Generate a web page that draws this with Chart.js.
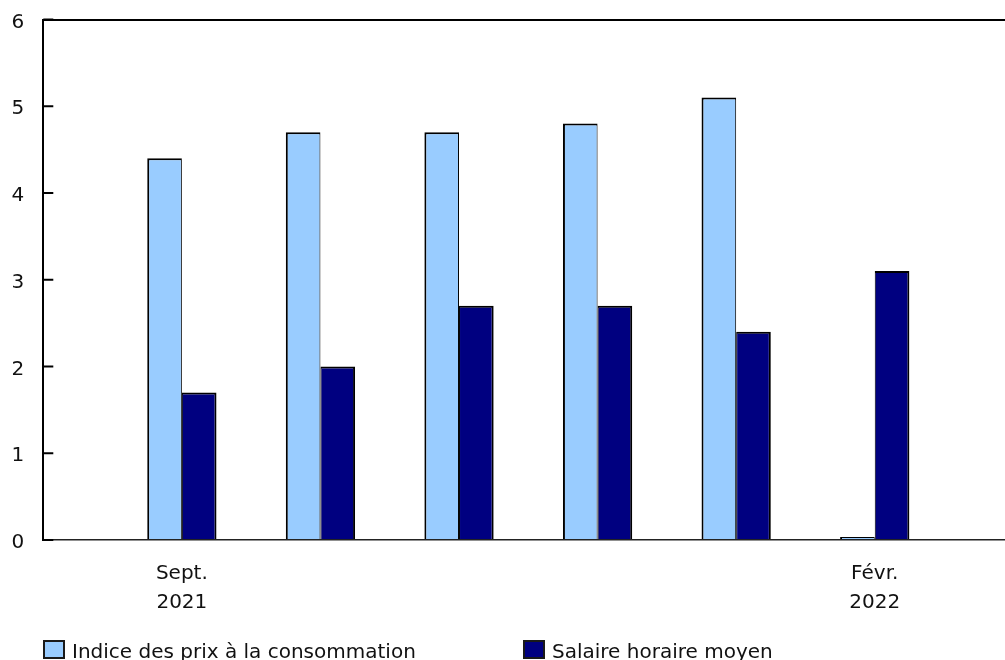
<!DOCTYPE html>
<html lang="fr">
<head>
<meta charset="utf-8">
<script src="https://cdn.jsdelivr.net/npm/chart.js@4"></script>
<style>
  html, body { margin: 0; padding: 0; background: #fff; }
  #wrap { position: relative; width: 1005px; height: 660px; font-family: "DejaVu Sans", Verdana, sans-serif; }
  #chart { position: absolute; left: 0; top: 0; }
  .leg { position: absolute; top: 640px; height: 20px; line-height: 20px; font-size: 20px; color: #111; white-space: nowrap; }
  .leg .box { position: absolute; left: 0; top: 0; width: 22px; height: 19px; box-sizing: border-box; border: 2px solid #1a1a1a; }
  .leg .txt { position: absolute; left: 29px; top: 1px; }
</style>
</head>
<body>
<div id="wrap">
  <canvas id="chart" width="1005" height="660"></canvas>
  <div id="legend"></div>
</div>
<script>
// ---- data ----
const months = ['Sept. 2021', 'Oct. 2021', 'Nov. 2021', 'Déc. 2021', 'Janv. 2022', 'Févr. 2022'];
const xTickLabels = [['Sept.', '2021'], null, null, null, null, ['Févr.', '2022']];
const seriesNames = ['Indice des prix à la consommation', 'Salaire horaire moyen'];
const cpiValues = [4.4, 4.7, 4.7, 4.8, 5.1, 0];
const wageValues = [1.7, 2.0, 2.7, 2.7, 2.4, 3.1];
const yTicks = [0, 1, 2, 3, 4, 5, 6];

const colors = ['#99CCFF', '#000080'];
const FONT = '"DejaVu Sans", Verdana, sans-serif';

const toPoints = vals => vals.map((v, i) => ({ x: i, y: v }));
const tickIndexes = xTickLabels.map((l, i) => (l ? i : null)).filter(v => v !== null);

const inwardTicks = {
  id: 'inwardTicks',
  afterDraw(chart) {
    const { ctx, chartArea, scales } = chart;
    ctx.save();
    ctx.strokeStyle = '#000';
    ctx.lineWidth = 2;
    yTicks.forEach(v => {
      const y = scales.y.getPixelForValue(v);
      ctx.beginPath();
      ctx.moveTo(chartArea.left, y);
      ctx.lineTo(chartArea.left + 10, y);
      ctx.stroke();
    });
    ctx.restore();
  }
};

const chart = new Chart(document.getElementById('chart'), {
  type: 'bar',
  data: {
    datasets: [
      {
        label: seriesNames[0],
        data: toPoints(cpiValues),
        backgroundColor: colors[0],
        borderColor: '#000',
        borderWidth: { top: 2, left: 2, right: 1, bottom: 0 },
        borderSkipped: 'start',
        minBarLength: 3
      },
      {
        label: seriesNames[1],
        data: toPoints(wageValues),
        backgroundColor: colors[1],
        borderColor: '#000',
        borderWidth: { top: 2, left: 1, right: 2, bottom: 0 },
        borderSkipped: 'start',
        minBarLength: 3
      }
    ]
  },
  options: {
    responsive: false,
    animation: false,
    devicePixelRatio: 1,
    categoryPercentage: 0.5,
    barPercentage: 1.0,
    layout: { padding: { left: 11.6, top: 19.5, right: 0, bottom: 42.4 } },
    plugins: {
      legend: { display: false },
      tooltip: { enabled: false }
    },
    scales: {
      x: {
        type: 'linear',
        offset: false,
        min: -1,
        max: 5.94,
        grid: { display: false, drawTicks: false, offset: false },
        border: { display: true, color: '#222', width: 1.5 },
        afterBuildTicks: scale => { scale.ticks = tickIndexes.map(v => ({ value: v })); },
        afterFit: scale => { scale.height = 77.6; scale.paddingLeft = 0; scale.paddingRight = 0; },
        ticks: {
          autoSkip: false,
          maxRotation: 0,
          padding: 19,
          color: '#111',
          font: { family: FONT, size: 20, lineHeight: 1.465 },
          callback: v => xTickLabels[v] || ''
        }
      },
      y: {
        min: 0,
        max: 6,
        afterBuildTicks: scale => { scale.ticks = yTicks.map(v => ({ value: v })); },
        afterFit: scale => { scale.width = 31.7; scale.paddingTop = 0; scale.paddingBottom = 0; },
        grid: {
          drawTicks: false,
          lineWidth: 2,
          color: c => (c.tick && c.tick.value === 6 ? '#000' : 'rgba(0,0,0,0)')
        },
        border: { display: true, color: '#000', width: 2 },
        ticks: {
          padding: 19,
          labelOffset: 3,
          color: '#111',
          font: { family: FONT, size: 20 }
        }
      }
    }
  },
  plugins: [inwardTicks]
});

// legend (HTML, built from the dataset names and colours)
const legendPos = [43, 523];
const legendEl = document.getElementById('legend');
seriesNames.forEach((name, i) => {
  const item = document.createElement('div');
  item.className = 'leg';
  item.style.left = legendPos[i] + 'px';
  const box = document.createElement('span');
  box.className = 'box';
  box.style.background = colors[i];
  const txt = document.createElement('span');
  txt.className = 'txt';
  txt.textContent = name;
  item.appendChild(box);
  item.appendChild(txt);
  legendEl.appendChild(item);
});
</script>
</body>
</html>
